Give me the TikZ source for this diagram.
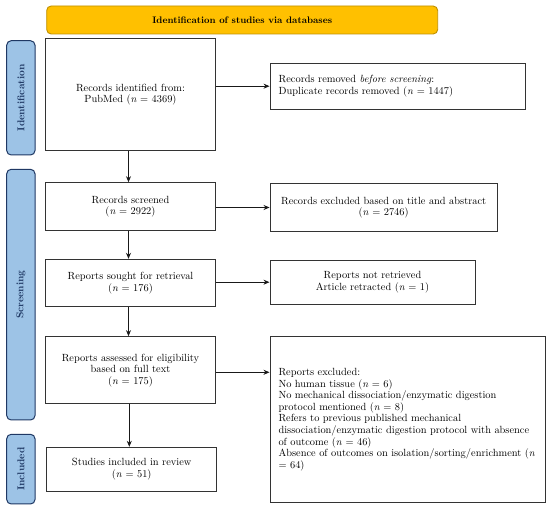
\documentclass[tikz,border=0pt]{standalone}
\usetikzlibrary{arrows.meta}
\definecolor{bannerfill}{HTML}{FFC000}
\definecolor{bannerdraw}{HTML}{BF9000}
\definecolor{sidefill}{HTML}{9DC3E6}
\definecolor{sidedraw}{HTML}{1F3864}
\begin{document}
\begin{tikzpicture}[x=1pt,y=-1pt,
  box/.style={draw=black!80,line width=1pt,fill=white,align=center,inner sep=2pt,
    font=\fontsize{10.4}{11.6}\selectfont},
  sidebox/.style={draw=sidedraw,line width=1pt,fill=sidefill,rounded corners=4.5pt},
  sidetext/.style={rotate=90,font=\fontsize{10}{11}\selectfont\bfseries,text=sidedraw},
  arr/.style={-{Stealth[length=6pt,width=5pt]},line width=0.8pt,black!90}]
\fill[white] (0,0) rectangle (550,510);
\useasboundingbox (0,0) rectangle (550,510);
% banner
\node[draw=bannerdraw,line width=0.9pt,fill=bannerfill,rounded corners=4.5pt,
  minimum width=391pt,minimum height=28pt,font=\fontsize{9.5}{11}\selectfont\bfseries]
  (banner) at (242.2,20) {Identification of studies via databases};
% side boxes
\node[sidebox,minimum width=28.3pt,minimum height=114.3pt] (sid) at (20.85,97.85) {};
\node[sidetext] (sidt) at (sid.center) {Identification};
\node[sidebox,minimum width=28.3pt,minimum height=250.7pt] (ssc) at (20.85,294.65) {};
\node[sidetext] (ssct) at (ssc.center) {Screening};
\node[sidebox,minimum width=28.3pt,minimum height=69.7pt] (sin) at (20.85,469.15) {};
\node[sidetext] (sint) at (sin.center) {Included};
% left column
\node[box,minimum width=170.4pt,minimum height=112.4pt] (b1) at (130.5,94.5)
  {Records identified from:\\PubMed (\textit{n} = 4369)};
\node[box,minimum width=170.4pt,minimum height=47.6pt] (b2) at (130.5,206.5)
  {Records screened\\(\textit{n} = 2922)};
\node[box,minimum width=170.4pt,minimum height=47.4pt] (b3) at (130.5,283)
  {Reports sought for retrieval\\(\textit{n} = 176)};
\node[box,minimum width=170.4pt,minimum height=67.3pt] (b4) at (130.5,370.3)
  {Reports assessed for eligibility\\based on full text\\(\textit{n} = 175)};
\node[box,minimum width=170pt,minimum height=44pt] (b5) at (131.7,469.3)
  {Studies included in review\\(\textit{n} = 51)};
% right column
\node[box,minimum width=255.3pt,minimum height=45.7pt,align=left] (r1) at (397.7,86.2)
  {\begin{minipage}{238pt}Records removed \textit{before screening}:\\Duplicate records removed (\textit{n} = 1447)\end{minipage}};
\node[box,minimum width=227.3pt,minimum height=48.4pt] (r2) at (383.7,207.5)
  {Records excluded based on title and abstract\\(\textit{n} = 2746)};
\node[box,minimum width=205pt,minimum height=44.3pt] (r3) at (372.5,282.2)
  {Reports not retrieved\\Article retracted (\textit{n} = 1)};
\node[box,minimum width=275pt,minimum height=165.8pt,align=left] (r4) at (407.5,419.6)
  {\begin{minipage}{258pt}\raggedright
  Reports excluded:\\
  No human tissue (\textit{n} = 6)\\
  No mechanical dissociation/enzymatic digestion\\
  protocol mentioned (\textit{n} = 8)\\
  Refers to previous published mechanical\\
  dissociation/enzymatic digestion protocol with absence\\
  of outcome (\textit{n} = 46)\\
  Absence of outcomes on isolation/sorting/enrichment (\textit{n}\\
  = 64)\\[6pt]
  \end{minipage}};
% arrows
\draw[arr] (b1.east |- r1.west) -- (r1.west);
\draw[arr] (b2.east |- r2.west) -- (r2.west);
\draw[arr] (b3.east |- r3.west) -- (r3.west);
\coordinate (a4) at ([yshift=-2pt]b4.east);
\draw[arr] (a4) -- (a4 -| r4.west);
\draw[arr] (b1.south -| 128.5,0) -- (b2.north -| 128.5,0);
\draw[arr] (b2.south -| 128.5,0) -- (b3.north -| 128.5,0);
\draw[arr] (b3.south -| 128.5,0) -- (b4.north -| 128.5,0);
\draw[arr] (b4.south -| 129.3,0) -- (b5.north -| 129.3,0);
\end{tikzpicture}
\end{document}
